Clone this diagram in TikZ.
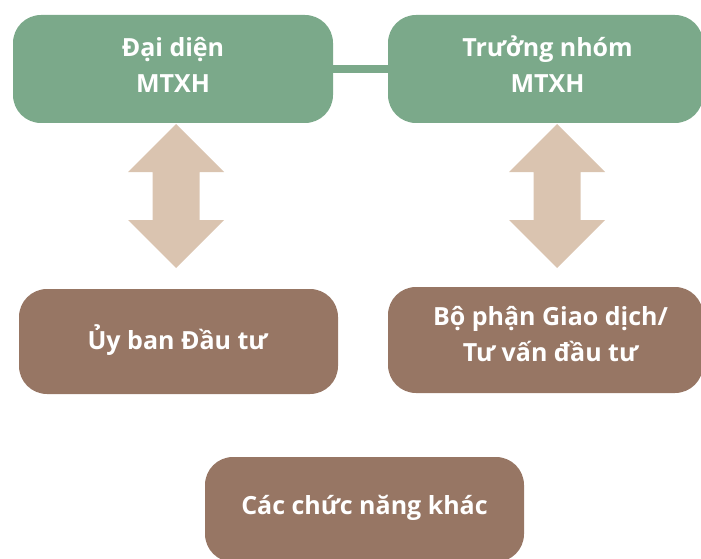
\documentclass[tikz,border=0pt]{standalone}
\usepackage{fontspec}
\setmainfont{Open Sans}[BoldFont={Open Sans Bold}]
\definecolor{boxgreen}{RGB}{123,169,138}
\definecolor{boxbrown}{RGB}{151,118,100}
\definecolor{arrowbeige}{RGB}{218,196,176}
\begin{document}
\begin{tikzpicture}[x=1pt,y=-1pt,
  box/.style={rounded corners=28pt, inner sep=0pt},
  greenbox/.style={box, fill=boxgreen},
  brownbox/.style={box, fill=boxbrown},
  txt/.style={text=white, inner sep=0pt, align=center,
    font=\bfseries\fontsize{25}{36}\selectfont},
  bar/.style={draw=boxgreen, line width=8pt},
  dblarrow/.style={fill=arrowbeige}]
\useasboundingbox (0,0) rectangle (701,559);
% top row
\node[greenbox, minimum width=320pt, minimum height=108pt] (b1) at (173,69) {};
\node[greenbox, minimum width=315pt, minimum height=108pt] (b2) at (545.5,69) {};
\draw[bar] (b1.east) -- (b2.west);
\node[txt] (t1) at ([yshift=4.5pt]b1.center) {Đại diện\\MTXH};
\node[txt] (t2) at ([xshift=2pt,yshift=4.5pt]b2.center) {Trưởng nhóm\\MTXH};
% double arrows
\foreach \cx/\nm in {176/a1, 557/a2}{
  \coordinate (\nm) at (\cx,196);
  \begin{scope}[shift={(\nm)}]
    \fill[dblarrow] (0,-72) -- (48,-24) -- (23.5,-24) -- (23.5,24) -- (48,24) -- (0,72)
      -- (-48,24) -- (-23.5,24) -- (-23.5,-24) -- (-48,-24) -- cycle;
  \end{scope}
}
% middle row
\node[brownbox, minimum width=319pt, minimum height=105pt] (b3) at (178.5,341.5) {};
\node[txt] (t3) at ([xshift=-1pt,yshift=1pt]b3.center) {Ủy ban Đầu tư};
\node[brownbox, minimum width=315pt, minimum height=106pt] (b4) at (545.5,340) {};
\node[txt] (t4) at ([xshift=5pt,yshift=5.5pt]b4.center) {Bộ phận Giao dịch/\\Tư vấn đầu tư};
% bottom
\node[brownbox, minimum width=319pt, minimum height=105pt] (b5) at (364.5,509.5) {};
\node[txt] (t5) at ([yshift=2pt]b5.center) {Các chức năng khác};
\end{tikzpicture}
\end{document}
